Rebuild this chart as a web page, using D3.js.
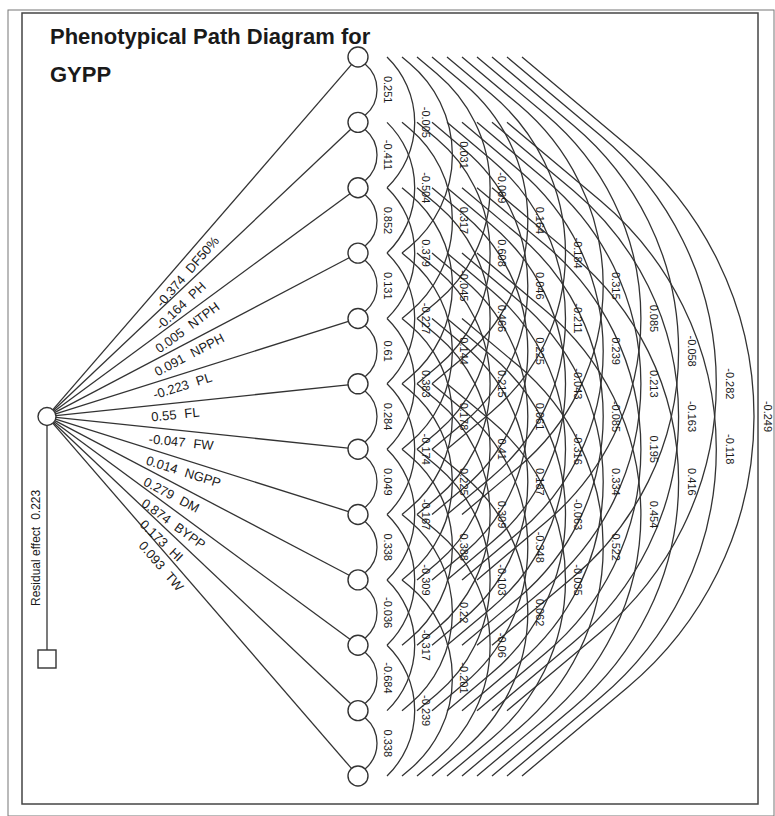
<!DOCTYPE html>
<html>
<head>
<meta charset="utf-8">
<script src="https://cdn.jsdelivr.net/npm/d3@7"></script>
<style>
  body { margin: 0; background: #fff; }
  text { font-family: "Liberation Sans", Arial, sans-serif; fill: #1a1a1a; }
</style>
</head>
<body>
<div id="chart"></div>
<script>
// traits in node order, top to bottom
const traits = ['DF50%', 'PH', 'NTPH', 'NPPH', 'PL', 'FL', 'FW', 'NGPP', 'DM', 'BYPP', 'HI', 'TW'];
// direct effects on GYPP
const directEffects = [-0.374, -0.164, 0.005, 0.091, -0.223, 0.55, -0.047, 0.014, 0.279, 0.874, 0.173, 0.093];
// correlations of each trait with the traits below it
const corrDF50 = [0.251, -0.005, 0.031, -0.069, 0.164, -0.184, 0.315, 0.085, -0.058, -0.282, -0.249];
const corrPH = [-0.411, -0.504, 0.317, 0.608, 0.046, -0.211, 0.239, 0.213, -0.163, -0.118];
const corrNTPH = [0.852, 0.379, -0.045, 0.466, 0.225, -0.043, -0.085, 0.195, 0.416];
const corrNPPH = [0.131, -0.227, 0.144, 0.215, 0.061, -0.316, 0.334, 0.454];
const corrPL = [0.61, 0.383, 0.178, 0.41, 0.187, -0.063, 0.522];
const corrFL = [0.284, -0.174, 0.225, 0.309, -0.348, -0.035];
const corrFW = [0.049, -0.167, 0.388, -0.103, 0.062];
const corrNGPP = [0.338, -0.309, 0.22, -0.06];
const corrDM = [-0.036, -0.317, -0.201];
const corrBYPP = [-0.684, -0.239];
const corrHI = [0.338];
const residualEffect = 0.223;
const titleLines = ['Phenotypical Path Diagram for', 'GYPP'];

const corrRows = [corrDF50, corrPH, corrNTPH, corrNPPH, corrPL, corrFL, corrFW, corrNGPP, corrDM, corrBYPP, corrHI];

const width = 775, height = 816;
const ink = '#333';
const svg = d3.select('#chart').append('svg').attr('width', width).attr('height', height);

// frames
svg.append('rect').attr('x', 8).attr('y', 10).attr('width', 766).attr('height', 806)
  .attr('fill', 'none').attr('stroke', '#777').attr('stroke-width', 1);
svg.append('rect').attr('x', 22).attr('y', 13).attr('width', 736).attr('height', 791)
  .attr('fill', 'none').attr('stroke', '#444').attr('stroke-width', 1.5);

svg.append('g').selectAll('text').data(titleLines).join('text')
  .attr('x', 50).attr('y', (d, i) => 44 + i * 38)
  .attr('font-size', 22).attr('font-weight', 'bold')
  .text(d => d);

const y = d3.scalePoint().domain(traits).range([57, 776]);
const nodeX = 358, nodeR = 10;
const src = { x: 47, y: (y(traits[0]) + y(traits[traits.length - 1])) / 2, r: 9 };

// horizontal placement of the correlation arcs by span
const spanStart = d3.scaleLinear().domain([2, 11]).range([387, 522]);
const spanApex = d3.scaleLinear().domain([1, 11]).range([377, 754]);
const spanLabel = d3.scaleLinear().domain([1, 11]).range([388, 768]);
const phi = 40 * Math.PI / 180;

const pairs = [];
corrRows.forEach((row, i) => row.forEach((r, n) => pairs.push({ i, j: i + n + 1, k: n + 1, r })));

// straight lead-in at 40 degrees, then a circular arc round to the end point
function arcPath(p) {
  const yi = y(traits[p.i]), yj = y(traits[p.j]);
  let x0, ya, yb;
  if (p.k === 1) {
    x0 = nodeX + nodeR * Math.SQRT1_2;
    ya = yi + nodeR * Math.SQRT1_2;
    yb = yj - nodeR * Math.SQRT1_2;
  } else {
    x0 = spanStart(p.k); ya = yi; yb = yj;
  }
  const A = spanApex(p.k);
  const h = (yb - ya) / 2, ym = (ya + yb) / 2;
  const cx = (A - h * Math.cos(phi) - x0 * Math.sin(phi)) / (1 - Math.sin(phi));
  const R = A - cx;
  if (h > R * Math.cos(phi) && cx > x0 - 400) {
    const tx = cx + R * Math.sin(phi);
    const t1 = ym - R * Math.cos(phi), t2 = ym + R * Math.cos(phi);
    return `M${x0},${ya}L${tx},${t1}A${R},${R} 0 0 1 ${tx},${t2}L${x0},${yb}`;
  }
  const s = A - x0;
  const r = (h * h + s * s) / (2 * s);
  return `M${x0},${ya}A${r},${r} 0 ${s > h ? 1 : 0} 1 ${x0},${yb}`;
}

const arcs = svg.append('g');
arcs.selectAll('path').data(pairs).join('path')
  .attr('d', arcPath)
  .attr('fill', 'none').attr('stroke', ink).attr('stroke-width', 1.3);

arcs.selectAll('text').data(pairs).join('text')
  .attr('transform', p => `translate(${spanLabel(p.k)},${(y(traits[p.i]) + y(traits[p.j])) / 2}) rotate(90)`)
  .attr('text-anchor', 'middle').attr('dy', '0.35em')
  .attr('font-size', 11)
  .text(p => String(p.r));

// direct paths
const paths = traits.map((t, i) => {
  const ty = y(t);
  const ang = Math.atan2(ty - src.y, nodeX - src.x);
  return { t, v: directEffects[i], ty, ang };
});

const direct = svg.append('g');
direct.selectAll('line').data(paths).join('line')
  .attr('x1', d => src.x + src.r * Math.cos(d.ang))
  .attr('y1', d => src.y + src.r * Math.sin(d.ang))
  .attr('x2', d => nodeX - nodeR * Math.cos(d.ang))
  .attr('y2', d => d.ty - nodeR * Math.sin(d.ang))
  .attr('stroke', ink).attr('stroke-width', 1.3);

const labelX = 150;
const lbl = direct.selectAll('text').data(paths).join('text')
  .attr('transform', d => {
    const ly = src.y + (labelX - src.x) * Math.tan(d.ang);
    return `translate(${labelX},${ly}) rotate(${d.ang * 180 / Math.PI})`;
  })
  .attr('y', 16)
  .attr('font-size', 13);
lbl.append('tspan').text(d => String(d.v));
lbl.append('tspan').attr('dx', 8).text(d => d.t);

// nodes
svg.append('g').selectAll('circle').data(traits).join('circle')
  .attr('cx', nodeX).attr('cy', d => y(d)).attr('r', nodeR)
  .attr('fill', '#fff').attr('stroke', ink).attr('stroke-width', 1.4);

svg.append('circle').attr('cx', src.x).attr('cy', src.y).attr('r', src.r)
  .attr('fill', '#fff').attr('stroke', ink).attr('stroke-width', 1.4);

// residual
const sq = 18, sqTop = 650;
svg.append('line').attr('x1', src.x).attr('x2', src.x)
  .attr('y1', src.y + src.r).attr('y2', sqTop)
  .attr('stroke', ink).attr('stroke-width', 1.3);
svg.append('rect').attr('x', src.x - sq / 2).attr('y', sqTop).attr('width', sq).attr('height', sq)
  .attr('fill', '#fff').attr('stroke', ink).attr('stroke-width', 1.4);
const res = svg.append('text').attr('transform', 'translate(40,606) rotate(-90)').attr('font-size', 12);
res.append('tspan').text('Residual effect');
res.append('tspan').attr('dx', 7).text(String(residualEffect));
</script>
</body>
</html>
